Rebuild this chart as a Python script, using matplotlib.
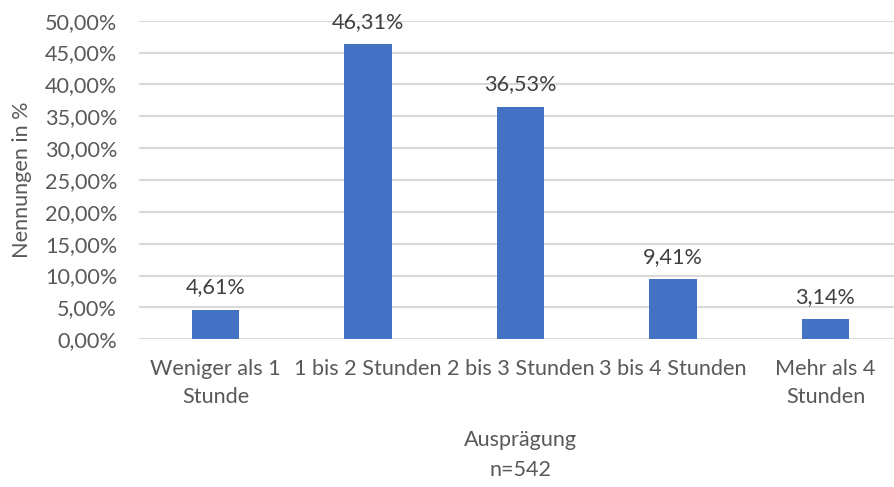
import numpy as np
import matplotlib.pyplot as plt
from matplotlib.ticker import FuncFormatter

categories = ["Weniger als 1\nStunde", "1 bis 2 Stunden", "2 bis 3 Stunden",
              "3 bis 4 Stunden", "Mehr als 4\nStunden"]
values = [4.61, 46.31, 36.53, 9.41, 3.14]
y_ticks = [0, 5, 10, 15, 20, 25, 30, 35, 40, 45, 50]

text_col = "#595959"
bar_col = "#4472C4"
grid_col = "#D9D9D9"

plt.rcParams["font.family"] = ["Lato", "DejaVu Sans"]
fs = 15.6

fig = plt.figure(figsize=(8.94, 4.87), dpi=100)
W, H = 894, 487
x0, x1 = 139.25, 901.75
y0, y1 = 339.3, 20.7
ax = fig.add_axes([x0 / W, 1 - y0 / H, (x1 - x0) / W, (y0 - y1) / H])

x = np.arange(len(categories))
bars = ax.bar(x, values, width=0.31, color=bar_col, zorder=3)

for b, v in zip(bars, values):
    ax.annotate(f"{v:.2f}%".replace(".", ","),
                (b.get_x() + b.get_width() / 2, v),
                xytext=(0, 9), textcoords="offset points",
                ha="center", va="bottom", fontsize=fs, color="#404040")

ax.set_xlim(-0.5, len(categories) - 0.5)
ax.set_ylim(0, 50)
ax.set_yticks(y_ticks)
ax.yaxis.set_major_formatter(FuncFormatter(lambda v, p: f"{v:.2f}%".replace(".", ",")))
ax.set_xticks(x)
ax.set_xticklabels(categories)
ax.grid(axis="y", color=grid_col, linewidth=1.5, zorder=0)
for s in ax.spines.values():
    s.set_visible(False)
ax.tick_params(axis="both", length=0, labelsize=fs, labelcolor=text_col)
ax.tick_params(axis="y", pad=16)
ax.tick_params(axis="x", pad=14)
for lbl in ax.get_xticklabels():
    lbl.set_linespacing(1.5)

ax.set_xlabel("Ausprägung\nn=542", fontsize=fs, color=text_col, labelpad=17,
              linespacing=1.6)
ax.set_ylabel("Nennungen in %", fontsize=fs, color=text_col, labelpad=9)

fig.savefig("out.png", dpi=100)
